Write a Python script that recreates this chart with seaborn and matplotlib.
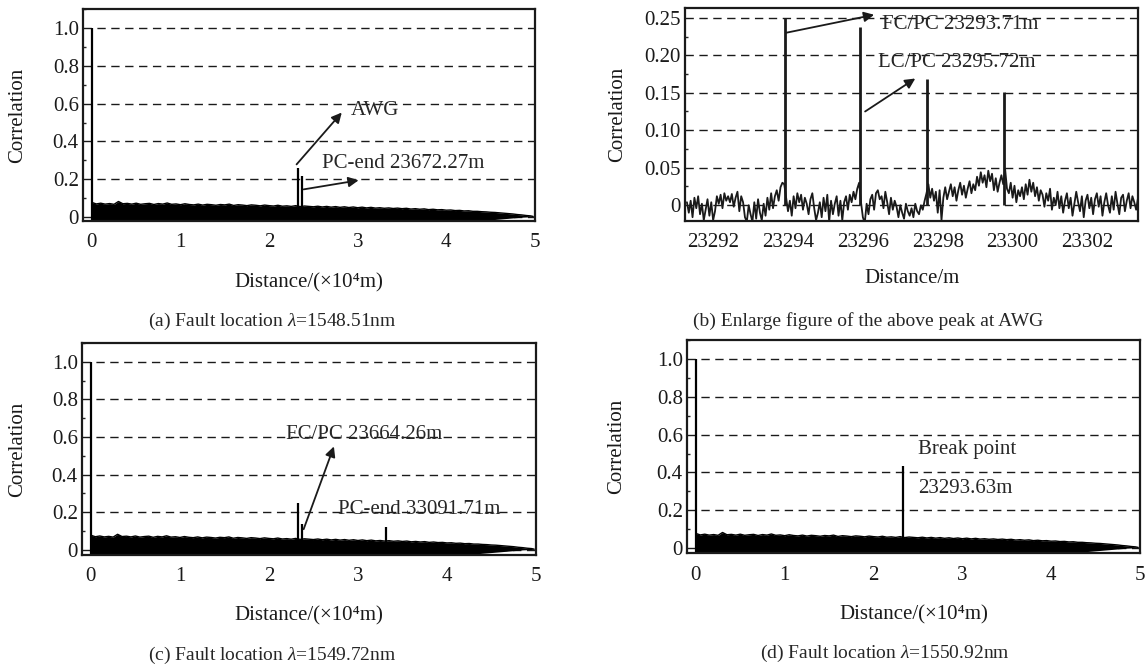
import numpy as np
import pandas as pd
import seaborn as sns
import matplotlib.pyplot as plt
from matplotlib.ticker import FuncFormatter, MultipleLocator

# ---- data ----
# background envelope of the coarse traces (x in 1e4 m, sampled every 0.05)
floor_x = [round(0.05 * i, 2) for i in range(100)] + [4.98]
floor_upper = [0.078, 0.070, 0.074, 0.069, 0.072, 0.068, 0.083, 0.071, 0.073, 0.069,
               0.074, 0.068, 0.071, 0.073, 0.067, 0.072, 0.069, 0.075, 0.068, 0.070,
               0.066, 0.071, 0.067, 0.065, 0.069, 0.064, 0.068, 0.066, 0.063, 0.067,
               0.065, 0.069, 0.062, 0.066, 0.064, 0.061, 0.065, 0.063, 0.060, 0.064,
               0.061, 0.059, 0.063, 0.058, 0.060, 0.057, 0.061, 0.056, 0.059, 0.057,
               0.055, 0.058, 0.054, 0.057, 0.053, 0.056, 0.052, 0.055, 0.051, 0.054,
               0.050, 0.053, 0.049, 0.052, 0.048, 0.050, 0.047, 0.049, 0.046, 0.048,
               0.045, 0.047, 0.043, 0.045, 0.042, 0.044, 0.040, 0.042, 0.039, 0.040,
               0.037, 0.038, 0.035, 0.036, 0.033, 0.034, 0.031, 0.031, 0.029, 0.028,
               0.026, 0.025, 0.023, 0.021, 0.019, 0.017, 0.014, 0.012, 0.009, 0.007,
               0.004]
floor_lower = [-0.02] * 88 + [-0.018, -0.016, -0.014, -0.012, -0.010, -0.008,
                              -0.006, -0.004, -0.002, 0.0, 0.001, 0.002, 0.003]

# spikes per panel (position in 1e4 m, height)
spikes_a_x = [0.0, 2.33, 2.37]
spikes_a_y = [1.0, 0.258, 0.22]
spikes_c_x = [0.0, 2.33, 2.37, 3.31]
spikes_c_y = [1.0, 0.25, 0.14, 0.12]
spikes_d_x = [0.0, 2.33]
spikes_d_y = [1.0, 0.434]

# zoomed trace around the AWG (x in m, sampled every 0.05 m)
zoom_start, zoom_stop = 23291.3, 23303.35
zoom_noise = [
    0.004, -0.010, 0.006, -0.016, 0.010, -0.004, 0.012, -0.012, 0.002, -0.020,
    -0.006, 0.008, -0.014, 0.004, -0.020, -0.008, 0.012, 0.002, 0.014, -0.004,
    0.016, 0.006, 0.012, 0.004, 0.015, -0.002, 0.010, 0.018, -0.008, 0.012,
    0.004, -0.016, -0.022, 0.000, -0.012, -0.022, 0.004, -0.018, 0.008, -0.010,
    -0.020, 0.002, -0.014, 0.010, -0.006, 0.016, -0.004, 0.012, 0.020, 0.006,
    0.024, 0.030, 0.028, 0.010, -0.008, 0.006, -0.014, 0.012, -0.004, 0.016,
    0.004, 0.014, -0.006, 0.010, 0.002, -0.012, 0.008, 0.016, -0.004, -0.020,
    -0.010, 0.004, -0.016, 0.010, -0.008, 0.014, -0.022, 0.006, -0.012, 0.002,
    0.012, -0.014, 0.006, -0.020, 0.004, 0.012, -0.006, 0.014, 0.004, 0.018,
    0.008, 0.022, 0.030, 0.004, -0.016, -0.024, 0.002, -0.012, 0.008, 0.014,
    -0.006, 0.016, 0.020, 0.008, 0.012, -0.004, 0.018, 0.004, -0.012, 0.010,
    -0.006, 0.006, -0.002, -0.016, 0.000, -0.010, -0.018, 0.002, -0.008, -0.014,
    -0.004, -0.016, 0.002, -0.008, -0.012, 0.000, -0.006, 0.006, 0.016, 0.028,
    0.010, 0.022, 0.006, 0.018, -0.010, 0.020, -0.020, 0.010, 0.024, 0.008,
    0.018, 0.028, 0.012, 0.024, 0.006, 0.020, 0.030, 0.014, 0.026, 0.010,
    0.022, 0.032, 0.016, 0.028, 0.020, 0.038, 0.026, 0.044, 0.030, 0.040,
    0.024, 0.046, 0.032, 0.042, 0.020, 0.036, 0.018, 0.030, 0.040, 0.028,
    0.048, 0.022, 0.016, 0.030, 0.010, 0.026, 0.004, 0.020, 0.012, 0.024,
    0.008, 0.028, 0.014, 0.034, 0.018, 0.030, 0.012, 0.024, 0.006, 0.020,
    0.014, -0.002, 0.016, 0.006, 0.022, -0.006, 0.010, 0.000, 0.018, -0.004,
    0.012, -0.010, 0.006, 0.016, -0.004, 0.010, -0.014, 0.002, 0.018, 0.004,
    -0.008, 0.012, -0.016, 0.006, 0.014, -0.004, 0.010, -0.012, 0.008, 0.016,
    -0.002, 0.012, -0.014, 0.004, 0.016, 0.000, -0.010, 0.012, -0.006, 0.018,
    0.002, -0.012, 0.010, 0.014, -0.008, 0.006, 0.016, -0.004, 0.012, 0.004,
    -0.006, 0.010]
zoom_peaks_x = [23293.93, 23295.93, 23297.72, 23299.78]
zoom_peaks_y = [0.25, 0.238, 0.169, 0.151]

captions = ["(a) Fault location $\\mathit{\\lambda}$=1548.51nm",
            "(b) Enlarge figure of the above peak at AWG",
            "(c) Fault location $\\mathit{\\lambda}$=1549.72nm",
            "(d) Fault location $\\mathit{\\lambda}$=1550.92nm"]

sns.set_theme(style="white")
plt.rcParams['font.family'] = ['Liberation Serif', 'DejaVu Serif']
plt.rcParams['mathtext.fontset'] = 'custom'
plt.rcParams['mathtext.rm'] = 'Liberation Serif'
plt.rcParams['mathtext.it'] = 'Liberation Serif:italic'
plt.rcParams['font.size'] = 15

fig = plt.figure(figsize=(11.45, 6.68), dpi=100)
dash = (0, (6, 4))


def zero_fmt(digits):
    return FuncFormatter(lambda v, p: "0" if abs(v) < 1e-9 else f"{v:.{digits}f}")


def style_axes(ax, xlim, ylim, ystep, digits, xlabel, ylab_x, xlab_y):
    ax.set_xlim(*xlim)
    ax.set_ylim(*ylim)
    ax.yaxis.set_major_locator(MultipleLocator(ystep))
    ax.yaxis.set_minor_locator(MultipleLocator(ystep / 2))
    ax.yaxis.set_major_formatter(zero_fmt(digits))
    ax.xaxis.set_major_formatter(FuncFormatter(lambda v, p: f"{v:.0f}"))
    ax.yaxis.grid(True, linestyle=dash, color='k', lw=1.0)
    ax.xaxis.grid(False)
    ax.set_axisbelow(True)
    ax.tick_params(axis='y', which='major', direction='in', length=4, width=1.2,
                   pad=3, labelsize=15, colors='k')
    ax.tick_params(axis='y', which='minor', direction='in', length=2, width=1.0, left=True)
    ax.tick_params(axis='x', length=0, pad=9, labelsize=15, colors='k')
    for s in ax.spines.values():
        s.set_color('k')
        s.set_linewidth(1.6)
    ax.set_ylabel("Correlation", fontsize=15, color='k')
    ax.yaxis.label.set_va('center')
    ax.yaxis.set_label_coords(ylab_x, 0.5)
    ax.set_xlabel(xlabel, fontsize=15, color='k')
    ax.xaxis.label.set_va('center')
    ax.xaxis.set_label_coords(0.5, xlab_y)


def overview(ax, sx, sy, ylim, ylab_x, xlab_y):
    ax.fill_between(floor_x, floor_lower, floor_upper, color='black', alpha=1.0, lw=0)
    ax.plot(floor_x, floor_upper, color='black', lw=1.0)
    ax.vlines(sx, -0.02, sy, color='black', lw=1.6)
    ax.set_xticks([0, 1, 2, 3, 4, 5])
    style_axes(ax, (-0.1, 5.0), ylim, 0.2, 1, "Distance/(×10⁴m)", ylab_x, xlab_y)


def arrow(ax, start, end):
    ax.annotate('', xy=end, xytext=start,
                arrowprops=dict(arrowstyle='-|>', color='k', lw=1.3,
                                mutation_scale=15, shrinkA=0, shrinkB=0))


# (a)
ax_a = fig.add_axes([0.0725, 0.6692, 0.3947, 0.3173])
overview(ax_a, spikes_a_x, spikes_a_y, (-0.02, 1.1), -0.144, -0.292)
ax_a.text(2.92, 0.565, "AWG", va='center', ha='left', fontsize=15)
arrow(ax_a, (2.31, 0.279), (2.82, 0.553))
ax_a.text(2.60, 0.284, "PC-end 23672.27m", va='center', ha='left', fontsize=15)
arrow(ax_a, (2.39, 0.147), (3.01, 0.195))

# (b)
ax_b = fig.add_axes([0.5983, 0.6692, 0.3956, 0.3188])
zoom_df = pd.DataFrame({"x": np.linspace(zoom_start, zoom_stop, len(zoom_noise)),
                        "y": zoom_noise})
sns.lineplot(data=zoom_df, x="x", y="y", ax=ax_b, color='k', lw=1.3)
ax_b.vlines(zoom_peaks_x, 0.0, zoom_peaks_y, color='k', lw=2.0)
ax_b.set_xticks([23292, 23294, 23296, 23298, 23300, 23302])
style_axes(ax_b, (23291.25, 23303.35), (-0.021, 0.263), 0.05, 2, "Distance/m", -0.148, -0.268)
ax_b.text(23296.5, 0.241, "FC/PC 23293.71m", va='center', ha='left', fontsize=15)
arrow(ax_b, (23293.95, 0.23), (23296.3, 0.254))
ax_b.text(23296.4, 0.19, "LC/PC 23295.72m", va='center', ha='left', fontsize=15)
arrow(ax_b, (23296.06, 0.125), (23297.4, 0.169))

# (c)
ax_c = fig.add_axes([0.0716, 0.1692, 0.3965, 0.3173])
overview(ax_c, spikes_c_x, spikes_c_y, (-0.027, 1.1), -0.141, -0.288)
ax_c.text(2.19, 0.615, "FC/PC 23664.26m", va='center', ha='left', fontsize=15)
arrow(ax_c, (2.39, 0.11), (2.73, 0.55))
ax_c.text(2.78, 0.215, "PC-end 33091.71m", va='center', ha='left', fontsize=15)

# (d)
ax_d = fig.add_axes([0.600, 0.172, 0.3956, 0.319])
overview(ax_d, spikes_d_x, spikes_d_y, (-0.026, 1.1), -0.155, -0.291)
ax_d.text(2.5, 0.52, "Break point", va='center', ha='left', fontsize=15)
ax_d.text(2.5, 0.317, "23293.63m", va='center', ha='left', fontsize=15)

for cx, cy, cap in zip([272, 868, 272, 885], [321, 321, 655, 653], captions):
    fig.text(cx / 1145, 1 - cy / 668, cap, ha='center', va='center', fontsize=14)

fig.savefig("out.png", dpi=100)
